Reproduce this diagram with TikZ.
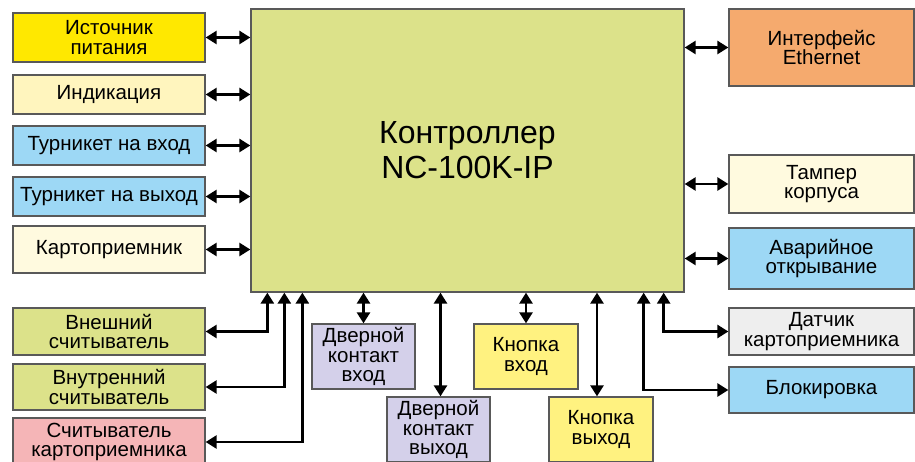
\documentclass[tikz,border=0pt]{standalone}
\usepackage{fontspec}
\setmainfont{Liberation Sans}
\usetikzlibrary{arrows.meta}
\definecolor{ctrlgreen}{HTML}{DCE28A}
\definecolor{pityellow}{HTML}{FFE800}
\definecolor{indyellow}{HTML}{FFF5BE}
\definecolor{paleyellow}{HTML}{FFFADF}
\definecolor{lightblue}{HTML}{9DD8F5}
\definecolor{readpink}{HTML}{F5B5B7}
\definecolor{doorlilac}{HTML}{D4D0EA}
\definecolor{btnyellow}{HTML}{FFF280}
\definecolor{ethorange}{HTML}{F5AA6E}
\definecolor{sensgray}{HTML}{EEEEEE}
\tikzset{
	blk/.style={draw=black!65, line width=1.3pt, inner sep=0pt, align=center, font=\fontsize{20.5}{19.5}\selectfont},
	lftblk/.style={blk, minimum width=192pt},
	rgtblk/.style={blk, minimum width=185pt},
	botblk/.style={blk, minimum width=103pt, minimum height=65pt},
	twoarr/.style={line width=2.6pt, {Triangle[length=11pt,width=13pt]}-{Triangle[length=11pt,width=13pt]}},
}

\begin{document}
\begin{tikzpicture}[x=1pt, y=-1pt]
			%%%%% START %%%%%
			\clip (0, 0) rectangle (915, 462);
			
			\node[blk, fill=ctrlgreen, minimum width=433pt, minimum height=283pt, font=\fontsize{32}{35}\selectfont] (ctrl) at (467.5, 150.5) {Контроллер\\NC-100K-IP};
			
			\node[lftblk, fill=pityellow, minimum height=49pt] (pit) at (109, 37.5) {Источник\\питания};
			\node[lftblk, fill=indyellow, minimum height=39pt] (ind) at (109, 94.5) {Индикация};
			\node[lftblk, fill=lightblue, minimum height=39pt] (tvh) at (109, 145.5) {Турникет на вход};
			\node[lftblk, fill=lightblue, minimum height=39pt] (tvy) at (109, 196.5) {Турникет на выход};
			\node[lftblk, fill=paleyellow, minimum height=47pt] (kart) at (109, 249.5) {Картоприемник};
			\node[lftblk, fill=ctrlgreen, minimum height=47pt] (vnesh) at (109, 331.5) {Внешний\\считыватель};
			\node[lftblk, fill=ctrlgreen, minimum height=46pt] (vnutr) at (109, 387) {Внутренний\\считыватель};
			\node[lftblk, fill=readpink, minimum height=48pt] (schk) at (109, 442) {Считыватель\\картоприемника};
			
			\node[botblk, fill=doorlilac] (dkvh) at (363.5, 356.5) {Дверной\\контакт\\вход};
			\node[botblk, fill=doorlilac] (dkvy) at (438.5, 429.5) {Дверной\\контакт\\выход};
			\node[botblk, fill=btnyellow, minimum width=104pt] (knvh) at (526, 356.5) {Кнопка\\вход};
			\node[botblk, fill=btnyellow, minimum width=104pt] (knvy) at (601, 429.5) {Кнопка\\выход};
			
			\node[rgtblk, fill=ethorange, minimum height=77pt] (eth) at (821.5, 47.5) {Интерфейс\\Ethernet};
			\node[rgtblk, fill=paleyellow, minimum height=58pt] (tamp) at (821.5, 184) {Тампер\\корпуса};
			\node[rgtblk, fill=lightblue, minimum height=61pt] (avar) at (821.5, 258.5) {Аварийное\\открывание};
			\node[rgtblk, fill=sensgray, minimum height=47pt] (dat) at (821.5, 331.5) {Датчик\\картоприемника};
			\node[rgtblk, fill=lightblue, minimum height=46pt] (blok) at (821.5, 390) {Блокировка};
			
			\draw[twoarr] (pit.east) -- (pit.east -| ctrl.west);
			\draw[twoarr] (ind.east) -- (ind.east -| ctrl.west);
			\draw[twoarr] (tvh.east) -- (tvh.east -| ctrl.west);
			\draw[twoarr] (tvy.east) -- (tvy.east -| ctrl.west);
			\draw[twoarr] (kart.east) -- (kart.east -| ctrl.west);
			
			\draw[twoarr] (vnesh.east) -| ([xshift=17pt]ctrl.south west);
			\draw[twoarr] (vnutr.east) -| ([xshift=34pt]ctrl.south west);
			\draw[twoarr] (schk.east) -| ([xshift=52pt]ctrl.south west);
			
			\coordinate (dkvyt) at ([xshift=2pt]dkvy.north);
			\coordinate (knvyt) at ([xshift=-4pt]knvy.north);
			\draw[twoarr] (dkvh.north) -- (dkvh.north |- ctrl.south);
			\draw[twoarr] (dkvyt) -- (dkvyt |- ctrl.south);
			\draw[twoarr] (knvh.north) -- (knvh.north |- ctrl.south);
			\draw[twoarr] (knvyt) -- (knvyt |- ctrl.south);
			
			\draw[twoarr] (eth.west) -- (eth.west -| ctrl.east);
			\draw[twoarr] (tamp.west) -- (tamp.west -| ctrl.east);
			\draw[twoarr] (avar.west) -- (avar.west -| ctrl.east);
			\draw[twoarr] (dat.west) -| ([xshift=-21pt]ctrl.south east);
			\draw[twoarr] (blok.west) -| ([xshift=-41pt]ctrl.south east);
			
			%%%%% END %%%%%
\end{tikzpicture}
\end{document}
